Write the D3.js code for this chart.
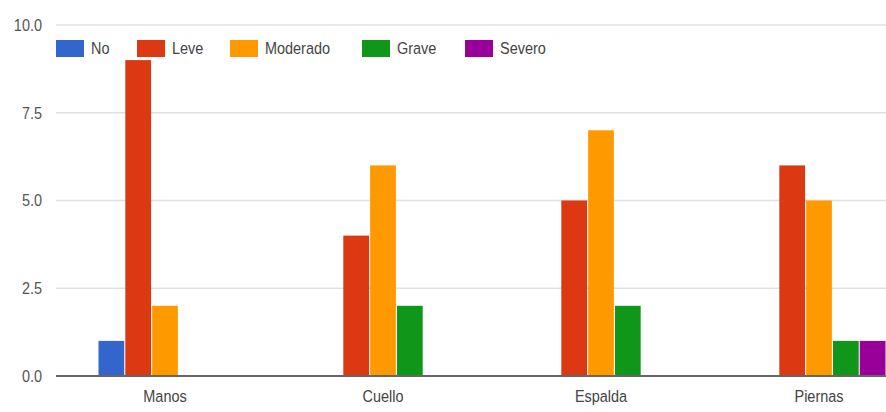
<!DOCTYPE html>
<html>
<head>
<meta charset="utf-8">
<script src="https://cdn.jsdelivr.net/npm/d3@7"></script>
<style>
  html, body { margin: 0; padding: 0; background: #fff; }
  svg text { font-family: "Liberation Sans", Arial, sans-serif; }
</style>
</head>
<body>
<svg id="chart" width="886" height="412"></svg>
<script>
// Body regions and severity levels
const categories = ["Manos", "Cuello", "Espalda", "Piernas"];
const seriesNames = ["No", "Leve", "Moderado", "Grave", "Severo"];
const seriesColors = ["#3366cc", "#dc3912", "#ff9900", "#109618", "#990099"];

// Counts per severity level, one value per region
const noValues = [1, 0, 0, 0];
const leveValues = [9, 4, 5, 6];
const moderadoValues = [2, 6, 7, 5];
const graveValues = [0, 2, 2, 1];
const severoValues = [0, 0, 0, 1];

const yTicks = [0, 2.5, 5, 7.5, 10];

const seriesValues = [noValues, leveValues, moderadoValues, graveValues, severoValues];

// Condensed lettering: tall glyphs squeezed horizontally
const squeeze = "scale(0.85,1)";

const svg = d3.select("#chart");

const x0 = d3.scaleBand()
  .domain(categories)
  .range([56, 928])
  .paddingInner(0.38)
  .paddingOuter(0.19);

const x1 = d3.scaleBand()
  .domain(seriesNames)
  .range([0, x0.bandwidth()])
  .padding(0.04);

const y = d3.scaleLinear().domain([0, 10]).range([376, 25]);

// Gridlines
svg.append("g")
  .selectAll("line")
  .data(yTicks.filter(t => t > 0))
  .join("line")
  .attr("x1", 56).attr("x2", 886)
  .attr("y1", d => y(d)).attr("y2", d => y(d))
  .attr("stroke", "#e0e0e0")
  .attr("stroke-width", 1.5);

// Y axis tick labels
const yAxis = d3.axisLeft(y).tickValues(yTicks).tickFormat(d3.format(".1f")).tickSize(0).tickPadding(16.5);
const gy = svg.append("g").attr("transform", "translate(56,0)").call(yAxis);
gy.select(".domain").remove();
gy.selectAll("text")
  .attr("fill", "#555")
  .attr("font-size", 17)
  .attr("transform", squeeze);

// Bars
const groups = svg.append("g")
  .selectAll("g")
  .data(categories)
  .join("g")
  .attr("transform", d => `translate(${x0(d)},0)`);

groups.selectAll("rect")
  .data((c, ci) => seriesNames.map((s, si) => ({ s, si, v: seriesValues[si][ci] })))
  .join("rect")
  .filter(d => d.v > 0)
  .attr("x", d => x1(d.s))
  .attr("width", x1.bandwidth())
  .attr("y", d => y(d.v))
  .attr("height", d => y(0) - y(d.v))
  .attr("fill", d => seriesColors[d.si]);

// Baseline
svg.append("line")
  .attr("x1", 56).attr("x2", 886)
  .attr("y1", y(0)).attr("y2", y(0))
  .attr("stroke", "#666")
  .attr("stroke-width", 2);

// X axis labels
const xAxis = d3.axisBottom(x0).tickSize(0).tickPadding(14);
const gx = svg.append("g").attr("transform", `translate(0,${y(0)})`).call(xAxis);
gx.select(".domain").remove();
gx.selectAll("text")
  .attr("fill", "#444")
  .attr("font-size", 17)
  .attr("transform", squeeze);

// Legend
const legendX = [56, 137, 230, 362, 465];
const legend = svg.append("g")
  .selectAll("g")
  .data(seriesNames)
  .join("g")
  .attr("transform", (d, i) => `translate(${legendX[i]},40)`);

legend.append("rect")
  .attr("width", 28).attr("height", 17)
  .attr("fill", (d, i) => seriesColors[i]);

legend.append("text")
  .attr("transform", `translate(35,14) ${squeeze}`)
  .attr("font-size", 17)
  .attr("fill", "#444")
  .text(d => d);
</script>
</body>
</html>
